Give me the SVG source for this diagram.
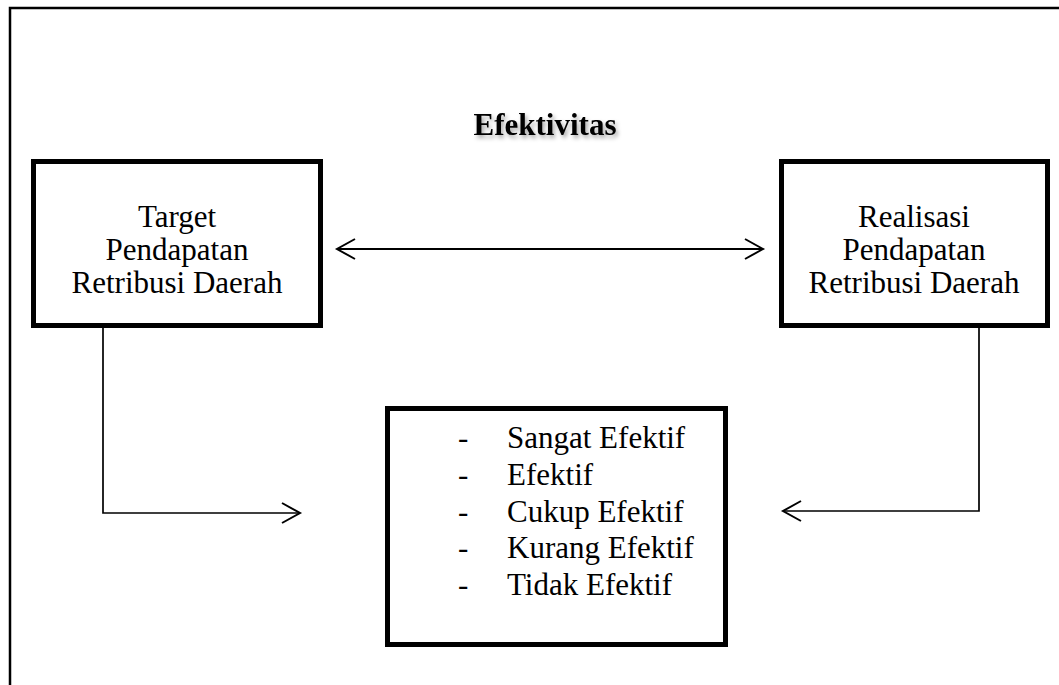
<svg xmlns="http://www.w3.org/2000/svg" width="1059" height="685" viewBox="0 0 1059 685">
<style>
  .box { fill: #fff; stroke: #000; stroke-width: 5; }
  .t { font-family: "Liberation Serif", "Times New Roman", serif; font-size: 31px; fill: #000; }
  .c { text-anchor: middle; }
  .conn { fill: none; stroke: #000; stroke-width: 2; }
</style>
<defs>
  <marker id="chev" markerUnits="userSpaceOnUse" markerWidth="24" markerHeight="24" viewBox="-20 -12 24 24" refX="0" refY="0" orient="auto-start-reverse">
    <path d="M-18,-10 L0,0 L-18,10" fill="none" stroke="#000" stroke-width="2"/>
  </marker>
  <filter id="shadow" x="-10%" y="-30%" width="130%" height="170%">
    <feDropShadow dx="2" dy="3" stdDeviation="2" flood-color="#000" flood-opacity="0.35"/>
  </filter>
</defs>
<rect width="1059" height="685" fill="#fff"/>
<g id="frame">
  <path d="M10,685 L10,8 L1059,8" fill="none" stroke="#000" stroke-width="2.5"/>
</g>
<g id="title">
  <text class="t c" x="545" y="135" font-weight="bold" filter="url(#shadow)">Efektivitas</text>
</g>
<g id="connectors">
  <line class="conn" x1="337" y1="249" x2="763" y2="249" marker-start="url(#chev)" marker-end="url(#chev)"/>
  <polyline class="conn" points="103,326 103,513 300,513" marker-end="url(#chev)" style="stroke-width:1.7"/>
  <polyline class="conn" points="979,326 979,511 783,511" marker-end="url(#chev)" style="stroke-width:1.7"/>
</g>
<g id="target">
  <rect class="box" x="33.5" y="161.5" width="287" height="164"/>
  <text class="t c" x="177" y="227">Target</text>
  <text class="t c" x="177" y="260">Pendapatan</text>
  <text class="t c" x="177" y="293">Retribusi Daerah</text>
</g>
<g id="realisasi">
  <rect class="box" x="781.5" y="161.5" width="266" height="164"/>
  <text class="t c" x="914" y="227">Realisasi</text>
  <text class="t c" x="914" y="260">Pendapatan</text>
  <text class="t c" x="914" y="293">Retribusi Daerah</text>
</g>
<g id="kategori">
  <rect class="box" x="387.5" y="408.5" width="338" height="236"/>
  <text class="t" x="458" y="448">-</text>
  <text class="t" x="507" y="448">Sangat Efektif</text>
  <text class="t" x="458" y="485">-</text>
  <text class="t" x="507" y="485">Efektif</text>
  <text class="t" x="458" y="522">-</text>
  <text class="t" x="507" y="522">Cukup Efektif</text>
  <text class="t" x="458" y="558">-</text>
  <text class="t" x="507" y="558">Kurang Efektif</text>
  <text class="t" x="458" y="595">-</text>
  <text class="t" x="507" y="595">Tidak Efektif</text>
</g>
</svg>
